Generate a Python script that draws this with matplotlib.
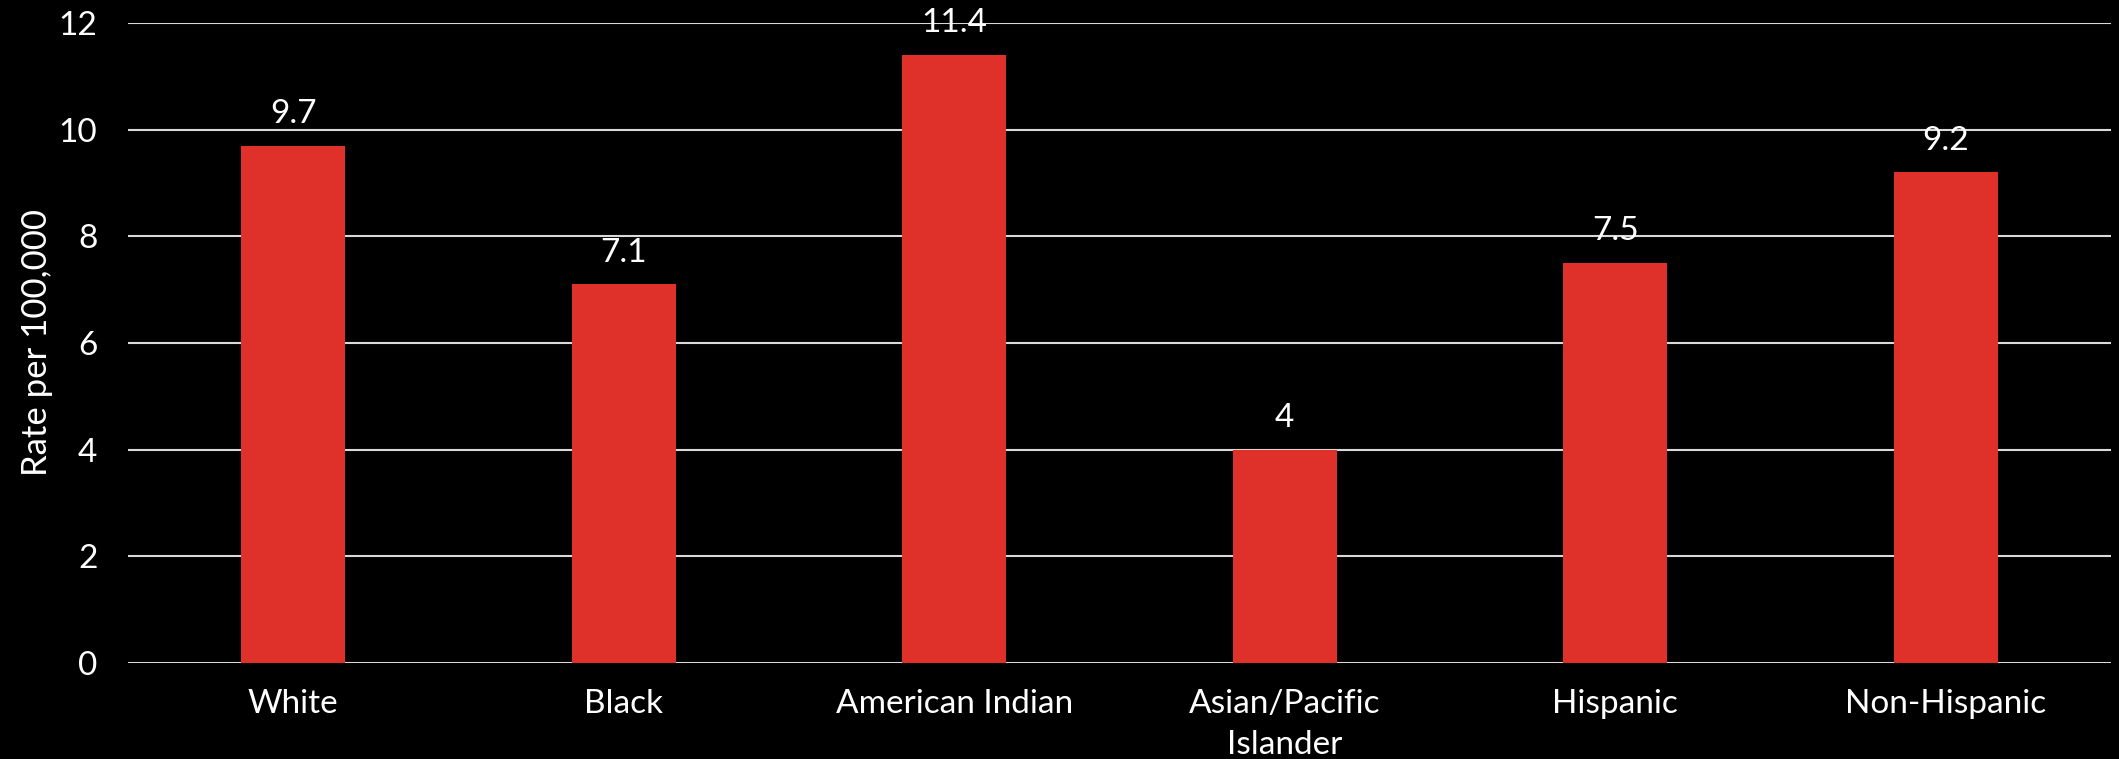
import matplotlib
matplotlib.use("Agg")
import matplotlib.pyplot as plt
from matplotlib import font_manager

# Data
categories = ["White", "Black", "American Indian", "Asian/Pacific\nIslander", "Hispanic", "Non-Hispanic"]
rates = [9.7, 7.1, 11.4, 4.0, 7.5, 9.2]
value_labels = ["9.7", "7.1", "11.4", "4", "7.5", "9.2"]
y_ticks = [0, 2, 4, 6, 8, 10, 12]

BAR_COLOR = "#E0302A"
GRID_COLOR = "#D9D9D9"
TEXT_COLOR = "#FFFFFF"
FS = 24

available = {f.name for f in font_manager.fontManager.ttflist}
family = "Lato" if "Lato" in available else "DejaVu Sans"
plt.rcParams["font.family"] = [family, "DejaVu Sans"]

fig = plt.figure(figsize=(21.19, 7.59), dpi=100, facecolor="black")
ax = fig.add_axes([0.0604, 0.1265, 0.9358, 0.8432], facecolor="black")

x = list(range(len(categories)))
ax.bar(x, rates, width=0.315, color=BAR_COLOR, zorder=3)

for xi, v, lab in zip(x, rates, value_labels):
    ax.annotate(lab, (xi, v), xytext=(0, 12), textcoords="offset points",
                ha="center", va="bottom", color=TEXT_COLOR, fontsize=FS,
                zorder=4)

ax.set_xlim(-0.5, len(categories) - 0.5)
ax.set_ylim(0, 12)
ax.set_yticks(y_ticks)
ax.set_yticklabels([str(t) for t in y_ticks])
ax.set_xticks(x)
ax.set_xticklabels(categories, linespacing=1.45)

ax.yaxis.grid(True, color=GRID_COLOR, linewidth=1.5, zorder=0)
ax.xaxis.grid(False)
for s in ax.spines.values():
    s.set_visible(False)

ax.tick_params(axis="both", length=0, colors=TEXT_COLOR, labelsize=FS)
ax.tick_params(axis="y", pad=22)
ax.tick_params(axis="x", pad=19)

ax.set_ylabel("Rate per 100,000", color=TEXT_COLOR, fontsize=FS + 1, labelpad=4)

fig.savefig("out.png", dpi=100, facecolor="black")
